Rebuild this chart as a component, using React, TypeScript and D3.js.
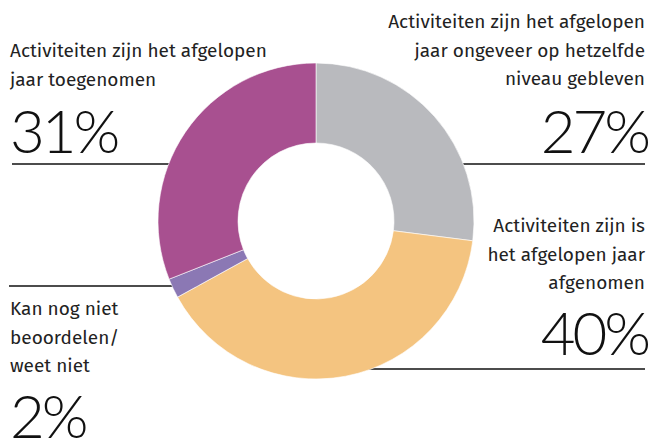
import { useEffect, useRef } from 'react';
import * as d3 from 'd3';

// data
const labels = [
  'Activiteiten zijn het afgelopen jaar ongeveer op hetzelfde niveau gebleven',
  'Activiteiten zijn is het afgelopen jaar afgenomen',
  'Kan nog niet beoordelen/ weet niet',
  'Activiteiten zijn het afgelopen jaar toegenomen',
];
const values = [27, 40, 2, 31];
const colors = ['#b9babe', '#f4c480', '#8b78b4', '#a85090'];
const labelLines = [
  ['Activiteiten zijn het afgelopen', 'jaar ongeveer op hetzelfde', 'niveau gebleven'],
  ['Activiteiten zijn is', 'het afgelopen jaar', 'afgenomen'],
  ['Kan nog niet', 'beoordelen/', 'weet niet'],
  ['Activiteiten zijn het afgelopen', 'jaar toegenomen'],
];

const W = 650;
const H = 440;

export default function App() {
  const svgRef = useRef<SVGSVGElement>(null);

  useEffect(() => {
    const svg = d3.select(svgRef.current);
    svg.selectAll('*').remove();

    const cx = 316;
    const cy = 221;
    const outer = 158;
    const inner = 78;
    const font = '"Fira Sans", "Noto Sans", sans-serif';

    // label layout per slice
    const layout = [
      { x: 645, anchor: 'end', y0: 28, big: 153, ly: 164, lx1: 400, lx2: 645 },
      { x: 645, anchor: 'end', y0: 232, big: 355, ly: 369, lx1: 360, lx2: 645 },
      { x: 10, anchor: 'start', y0: 315, big: 438, ly: 286, lx1: 9, lx2: 230 },
      { x: 10, anchor: 'start', y0: 57, big: 153, ly: 164, lx1: 12, lx2: 230 },
    ];

    // lijnen onder de donut
    layout.forEach(l => {
      svg.append('line')
        .attr('x1', l.lx1).attr('x2', l.lx2)
        .attr('y1', l.ly).attr('y2', l.ly)
        .attr('stroke', '#111')
        .attr('stroke-width', 1.5);
    });

    const pie = d3.pie<number>().sort(null).value(d => d);
    const arc = d3.arc<d3.PieArcDatum<number>>().innerRadius(inner).outerRadius(outer);

    svg.append('g')
      .attr('transform', `translate(${cx},${cy})`)
      .selectAll('path')
      .data(pie(values))
      .enter().append('path')
      .attr('d', arc)
      .attr('fill', (d, i) => colors[i])
      .attr('stroke', '#fff')
      .attr('stroke-width', 0.6);

    layout.forEach((l, i) => {
      const g = svg.append('g').attr('aria-label', labels[i]);
      labelLines[i].forEach((t, j) => {
        g.append('text')
          .attr('x', l.x)
          .attr('y', l.y0 + j * 28.5)
          .attr('text-anchor', l.anchor)
          .style('font-family', font)
          .style('font-size', '19px')
          .style('fill', '#222')
          .text(t);
      });
      g.append('text')
        .attr('x', l.x + (l.anchor === 'start' ? 0 : 3))
        .attr('y', l.big)
        .attr('text-anchor', l.anchor)
        .style('font-family', '"Lato", sans-serif')
        .style('font-weight', 300)
        .style('font-size', '60px')
        .style('letter-spacing', '-3px')
        .style('fill', '#111')
        .text(`${values[i]}%`);
    });
  }, []);

  return (
    <svg ref={svgRef} width={W} height={H}
      style={{ position: 'absolute', left: 0, top: 0, background: '#fff' }} />
  );
}
